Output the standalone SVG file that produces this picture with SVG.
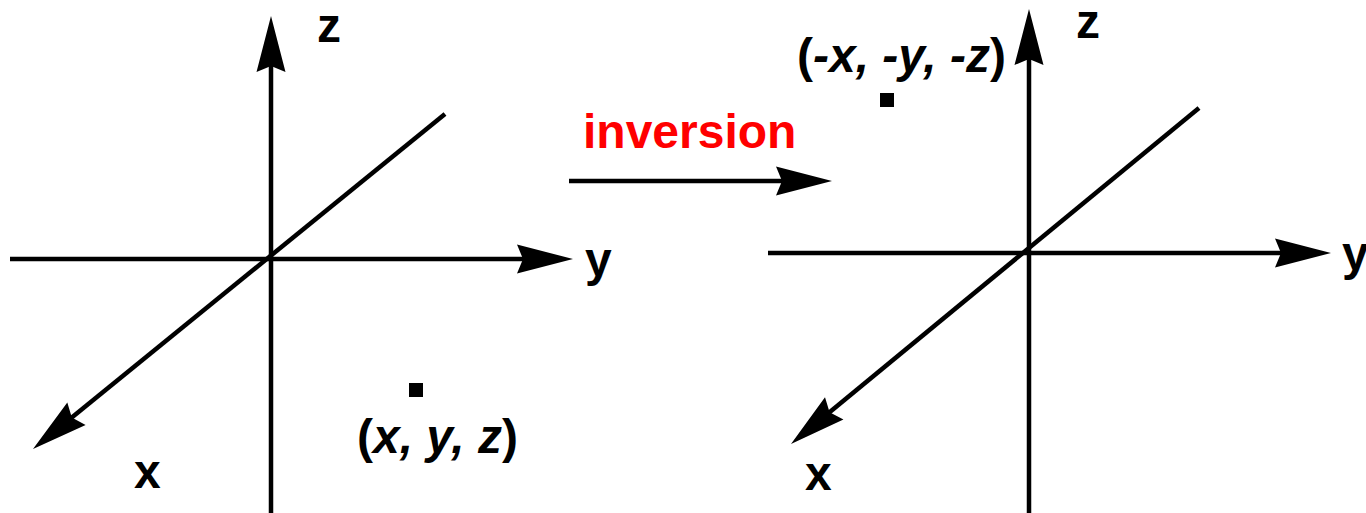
<svg xmlns="http://www.w3.org/2000/svg" width="1366" height="513" viewBox="0 0 1366 513">
<style>
.ax{stroke:#000;stroke-width:4.5;fill:none;marker-end:url(#ah)}
.lb{font-family:"Liberation Sans",Arial,sans-serif;font-weight:bold;font-size:48px;fill:#000}
.it{font-style:italic}
.pt{fill:#000}
</style>
<defs>
<marker id="ah" markerUnits="userSpaceOnUse" markerWidth="60" markerHeight="32" refX="10" refY="16" orient="auto" overflow="visible">
<path d="M0,1.5 L56,16 L0,30.5 L6,16 Z" fill="#000"/>
</marker>
</defs>
<rect width="1366" height="513" fill="#fff"/>
<g id="connectors">
<line class="ax" x1="271" y1="513" x2="271" y2="62"/>
<line class="ax" x1="10" y1="259" x2="527" y2="259"/>
<line class="ax" x1="445" y1="114" x2="68.7" y2="420"/>
<line class="ax" x1="1029" y1="513" x2="1029" y2="55"/>
<line class="ax" x1="768" y1="253" x2="1285" y2="253"/>
<line class="ax" x1="1199" y1="108" x2="826.5" y2="414.7"/>
<line class="ax" x1="569" y1="181" x2="786" y2="181"/>
</g>
<g id="left-labels">
<text class="lb" x="317" y="42">z</text>
<text class="lb" x="585" y="276">y</text>
<text class="lb" x="134" y="488">x</text>
</g>
<g id="point-left">
<rect class="pt" x="409" y="383" width="14" height="14"/>
<text class="lb" x="357" y="453">(<tspan class="it">x, y, z</tspan>)</text>
</g>
<g id="inversion">
<text class="lb" x="583" y="148" style="fill:#ff0000">inversion</text>
</g>
<g id="right-labels">
<text class="lb" x="1076" y="38">z</text>
<text class="lb" x="1342" y="270">y</text>
<text class="lb" x="805" y="490">x</text>
</g>
<g id="point-right">
<rect class="pt" x="880" y="93" width="14" height="14"/>
<text class="lb" x="797" y="72">(<tspan class="it">-x, -y, -z</tspan>)</text>
</g>
</svg>
